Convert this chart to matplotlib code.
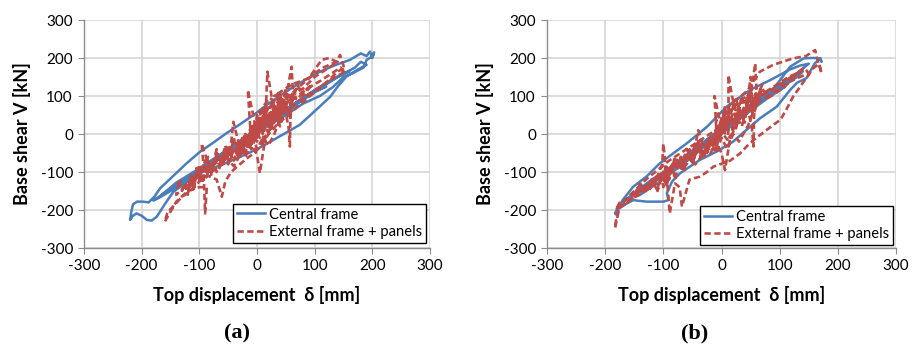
import matplotlib
matplotlib.use('Agg')
import matplotlib.pyplot as plt

plt.rcParams['font.family'] = ['Lato', 'DejaVu Sans']
plt.rcParams['axes.unicode_minus'] = False

# ---- (a) central frame: top displacement [mm] / base shear [kN]
disp_a_central = [0, 30, 55, 40, 10, -20, -50, -30, 0, 40, 70, 100, 120, 100, 60, 20, -20, -60, -100, -120,
                  -100, -60, -20, 20, 60, 100, 140, 160, 150, 120, 80, 40, 0, -40, -80, -120, -150, -170, -180, -165,
                  -140, -100, -60, -20, 20, 60, 100, 140, 170, 180,
                  190, 175, 155, 140, 127, 100, 74, 50, 28, 0, -29, -60, -99, -120, -145, -160, -174, -183, -191, -200,
                  -209, -215, -220, -218, -215, -208, -198, -188, -178, -168, -145, -122, -99, -75, -53, -30, -6, 20, 46, 75,
                  104, 130, 161, 180, 190, 196, 200, 203, 201, 190, 185, 166, 150, 132, 109, 80, 40, 0,
                  -30, -60, -90, -120, -150, -165, -140, -110, -80, -50, -20, 10, 40, 70]
shear_a_central = [5, 40, 65, 50, 15, -15, -45, -30, 0, 45, 80, 110, 125, 112, 70, 25, -20, -60, -100, -115,
                   -98, -55, -10, 35, 75, 115, 150, 165, 160, 135, 95, 50, 8, -38, -80, -120, -150, -168, -175, -160,
                   -135, -95, -52, -8, 30, 72, 112, 150, 175, 190,
                   182, 170, 151, 125, 98, 60, 24, 3, -16, -40, -60, -80, -103, -125, -152, -185, -218, -228, -226, -215,
                   -209, -215, -226, -205, -185, -178, -178, -180, -165, -143, -110, -77, -47, -22, 2, 25, 50, 80, 107, 135,
                   160, 178, 195, 212, 205, 217, 200, 215, 205, 195, 175, 160, 150, 124, 100, 80, 40, 10,
                   -22, -52, -85, -118, -145, -160, -128, -100, -70, -40, -8, 22, 55, 85]

# ---- (a) external frame + panels
disp_a_external = [0, 8, -5, 12, 2, 20, 8, -12, 5, -18, -2, 15, 18, 24, 30, 38, 48, 44, 52, 60,
                   62, 58, 57, 55, 48, 38, 28, 15, 5, 0, -10, -20, -30, -41, -45, -52, -40, -28, -18, -10,
                   -16, -8, -3, 3, 12, 22, 32, 42, 30, 60, 90, 112, 125, 138, 144, 150, 150, 145, 130, 110,
                   90, 70, 55, 40, 25, 10, -5, -20, -35, -50, -65, -80, -96, -93, -90, -87, -100, -120, -140, -160,
                   -155, -145, -130, -115, -100, -85, -70, -61, -55, -45, -30, -18, -5, 8, 20, 35, 50, 65, 80, 100,
                   120, 140, 152, 148, 130, 110, 90, 70, 50, 30, 15, 0, -15, -30, -50, -70, -90, -110, -125, -110,
                   -90, -70, -50, -30, -10, 10, 25, 40, 55, 70, 85, 100, 115, 130, 140,
                   120, 100, 80, 60, 50, 40, 35, 25, 20, 10, 5, 0, -5, 15, 20, 30, 25, 40, 35, 45,
                   50, 40, 30, 20, 10, 0, -10, -20, -30, -25, -40, -50, -60, -70, -80, -90, -100, -105, -110, -115,
                   -120, -125, -130, -135, -140, -120, -100, -80, -70, -60, -50, -40, -30, -20, -10, 0, 10, 20, 30, 40,
                   50, 58, 60, 70, 80, 95,
                   80, 70, 60, 55, 45, 40, 30, 28, 20, 15, 10, 5, 0, -5, -15, -10, -25, -20, -35, -40,
                   -50, -55, -65, -70, -80, -85, -95, -100, -110, -105, -120, -115, -100, -90, -80, -70, -60, -50, -40, -30,
                   -20, -10, 0, 10, 15, 25, 30, 40, 45, 55, 60]
shear_a_external = [0, 25, -15, 45, 10, 70, 35, -25, 15, -35, 15, 55, 164, 110, 60, 95, 85, 55, 110, 177,
                    120, 50, -33, 15, 70, 55, 25, -5, -103, -55, -25, -60, -35, 32, -25, -65, -85, -50, -40, -20,
                    116, 60, 20, 45, 75, 95, 85, 110, 100, 130, 147, 195, 200, 190, 208, 180, 164, 175, 160, 140,
                    122, 100, 85, 65, 40, 20, -5, -30, -50, -70, -85, -100, -25, -80, -209, -140, -140, -150, -178, -231,
                    -205, -190, -165, -150, -125, -110, -120, -165, -125, -100, -80, -65, -50, -30, 0, 25, 45, 65, 85, 110,
                    135, 165, 172, 160, 145, 125, 105, 85, 60, 35, 20, 5, -15, -35, -55, -75, -100, -125, -140, -110,
                    -90, -70, -45, -20, 0, 30, 50, 70, 100, 120, 140, 160, 175, 185, 190,
                    170, 150, 120, 100, 80, 95, 60, 85, 40, 70, 20, 50, 0, 60, 20, 75, 30, 50, 100, 70,
                    120, 40, 0, -30, -10, -40, 10, -20, -60, -10, -50, -30, -80, -50, -110, -70, -120, -90, -150, -110,
                    -160, -130, -150, -120, -160, -130, -100, -90, -60, -80, -40, -70, -20, -50, 0, -20, 40, 0, 60, 20,
                    80, 40, 100, 90, 110, 130,
                    100, 130, 80, 110, 60, 100, 40, 90, 20, 80, 0, 60, -10, 30, -30, 20, -40, 0, -60, -10,
                    -70, -30, -90, -40, -100, -60, -130, -80, -140, -100, -150, -120, -110, -120, -80, -100, -60, -80, -40, -60,
                    -20, -40, 0, -20, 40, 10, 60, 30, 90, 50, 100]

# ---- (b) central frame
disp_b_central = [0, 30, 60, 40, 10, -20, -50, -30, 0, 40, 80, 110, 90, 50, 10, -30, -70, -100, -120, -100,
                  -60, -20, 20, 60, 100, 130, 140, 120, 80, 40, 0, -40, -80, -120, -150, -170, -150, -120, -90, -60,
                  -30, 0, 30, 60, 90, 118, 141, 152, 165, 170, 172, 170, 160, 146, 130, 118, 95, 66, 43, 20,
                  -8, -37, -71, -85, -94, -91, -100, -129, -152, -165, -180, -183, -178, -170, -152, -129, -106, -83, -60, -25,
                  9, 49, 84, 118, 135, 150,
                  130, 100, 70, 40, 10, -20, -50, -80, -110, -140, -120, -90, -60, -30, 0, 30, 60]
shear_b_central = [5, 40, 75, 50, 15, -20, -50, -30, 0, 50, 95, 125, 110, 65, 20, -30, -75, -110, -130, -105,
                   -60, -10, 35, 80, 120, 150, 165, 150, 110, 60, 10, -40, -85, -130, -160, -180, -155, -120, -90, -55,
                   -20, 15, 50, 90, 120, 177, 199, 200, 200, 195, 190, 200, 185, 147, 135, 116, 72, 41, 11, -20,
                   -46, -68, -103, -125, -156, -174, -178, -178, -174, -185, -200, -210, -195, -174, -139, -112, -77, -51, -25, 19,
                   72, 116, 142, 170, 180, 185,
                   160, 125, 90, 55, 15, -20, -60, -95, -130, -160, -130, -95, -60, -25, 10, 45, 80]

# ---- (b) external frame + panels
disp_b_external = [0, 10, -5, 15, 5, 22, 8, -10, 5, -15, 0, 12, 12, 18, 25, 35, 45, 40, 50, 58,
                   60, 56, 55, 52, 45, 35, 25, 15, 6, 0, -10, -20, -32, -40, -45, -55, -45, -30, -18, -8,
                   -12, -5, 0, 8, 18, 30, 45, 66, 89, 123, 145, 161, 165, 172, 168, 155, 152, 140, 123, 110,
                   101, 90, 78, 60, 45, 32, 15, -14, -25, -37, -55, -68, -72, -80, -89, -92, -100, -102, -110, -125,
                   -140, -155, -165, -175, -183, -180, -172, -160, -150, -140, -125, -110, -95, -80, -65, -50, -35, -20, -5, 10,
                   25, 40, 55, 70, 85, 100, 115, 130, 142, 150, 135, 120, 100, 80, 60, 40, 20, 5, -10, -25,
                   -40, -55, -70, -85, -100, -115, -130, -145, -160, -175, -182, -170, -150, -130, -110, -90, -70, -50, -30, -10,
                   5, 20, 35,
                   50, 60, 70, 55, 45, 35, 25, 15, 5, 0, -10, -5, 10, 20, 30, 40, 50, 55, 45, 30,
                   20, 10, 0, -10, -20, -30, -40, -50, -60, -70, -80, -90, -95, -100, -105, -110, -120, -130, -140, -150,
                   -130, -110, -90, -75, -60, -45, -35, -20, -10, 0, 15, 25, 35, 45, 55, 65, 80, 100, 120, 140,
                   120, 100, 80, 70, 60, 50, 40, 35, 25, 20, 10, 5, -5, 0, -15, -10, -25, -20, -35, -40,
                   -50, -55, -65, -70, -80, -85, -95, -100, -110, -115, -125, -120, -105, -90, -80, -70, -60, -50, -40, -30,
                   -20, -10, 0, 10, 15, 25, 30, 40, 45, 55, 60]
shear_b_external = [0, 30, -10, 50, 25, 80, 40, -20, 15, -30, 20, 60, 155, 100, 60, 90, 80, 55, 100, 186,
                    120, 50, -33, 20, 65, 50, 20, -10, -95, -50, -20, -55, -30, 10, -30, -60, -80, -50, -35, -15,
                    100, 50, 25, 60, 85, 95, 115, 164, 182, 199, 205, 221, 195, 160, 185, 170, 160, 135, 98, 60,
                    37, 25, 11, -10, -30, -51, -70, -86, -100, -112, -120, -191, -140, -130, -209, -150, -25, -80, -110, -140,
                    -160, -170, -185, -190, -248, -210, -190, -175, -165, -150, -130, -115, -95, -80, -65, -50, -30, -15, 5, 25,
                    45, 65, 85, 105, 120, 135, 150, 160, 175, 160, 150, 140, 120, 100, 80, 60, 35, 15, -5, -25,
                    -45, -60, -75, -90, -110, -125, -140, -150, -170, -180, -200, -180, -150, -120, -95, -70, -50, -30, -10, 10,
                    40, 70, 90,
                    110, 90, 130, 70, 100, 50, 90, 30, 70, 10, 40, -10, 50, 10, 70, 30, 150, 60, 20, -20,
                    0, -40, -10, -50, -10, -60, -20, -70, -40, -90, -60, -120, -80, -140, -100, -150, -120, -150, -130, -160,
                    -140, -110, -100, -70, -80, -40, -60, -20, -40, 10, -10, 50, 20, 80, 50, 100, 110, 130, 150, 170,
                    140, 115, 95, 120, 70, 110, 50, 100, 30, 80, 10, 60, -10, 40, -30, 10, -50, -10, -60, -20,
                    -80, -40, -100, -60, -120, -80, -140, -100, -150, -120, -150, -130, -110, -110, -80, -95, -55, -75, -35, -55,
                    -15, -35, 5, -15, 45, 15, 70, 40, 100, 60, 120]

ticks = [-300, -200, -100, 0, 100, 200, 300]
blue = '#4a7ebb'
red = '#be4b48'

fig = plt.figure(figsize=(9.17, 3.46), dpi=100)
ax_a = fig.add_axes([84 / 917, 98 / 346, 346 / 917, 228 / 346])
ax_b = fig.add_axes([547 / 917, 98 / 346, 349 / 917, 228 / 346])

panels = [(ax_a, disp_a_central, shear_a_central, disp_a_external, shear_a_external, '(a)', (0.988, 0.022), 237),
          (ax_b, disp_b_central, shear_b_central, disp_b_external, shear_b_external, '(b)', (0.991, 0.013), 695)]

for ax, xc, yc, xe, ye, tag, anchor, tag_x in panels:
    ax.plot(xc, yc, color=blue, lw=1.8, label='Central frame', zorder=3)
    ax.plot(xe, ye, color=red, lw=1.9, ls=(0, (2.4, 1.3)), label='External frame + panels', zorder=4)
    ax.set_xlim(-300, 300)
    ax.set_ylim(-300, 300)
    ax.set_xticks(ticks)
    ax.set_yticks(ticks)
    ax.grid(True, color='#d6d6d6', lw=1.2)
    ax.set_axisbelow(True)
    for s in ['top', 'right']:
        ax.spines[s].set_visible(False)
    for s in ['left', 'bottom']:
        ax.spines[s].set_color('#8c8c8c')
        ax.spines[s].set_linewidth(1.0)
    ax.tick_params(direction='out', length=4, color='#8c8c8c', labelsize=11, pad=4)
    ax.set_xlabel('Top displacement  δ [mm]', fontsize=13, fontweight='bold', labelpad=9)
    ax.set_ylabel('Base shear V [kN]', fontsize=13, fontweight='bold', labelpad=7)
    leg = ax.legend(loc='lower right', bbox_to_anchor=anchor, fontsize=10.6, fancybox=False,
                    edgecolor='black', framealpha=1, handlelength=1.9, borderpad=0.25,
                    labelspacing=0.25, handletextpad=0.3, borderaxespad=0)
    leg.get_frame().set_linewidth(1.0)
    fig.text(tag_x / 917, 1 - 333 / 346, tag, ha='center', va='center',
             fontsize=16, fontweight='bold', family='Liberation Serif')

fig.savefig('out.png', dpi=100)
